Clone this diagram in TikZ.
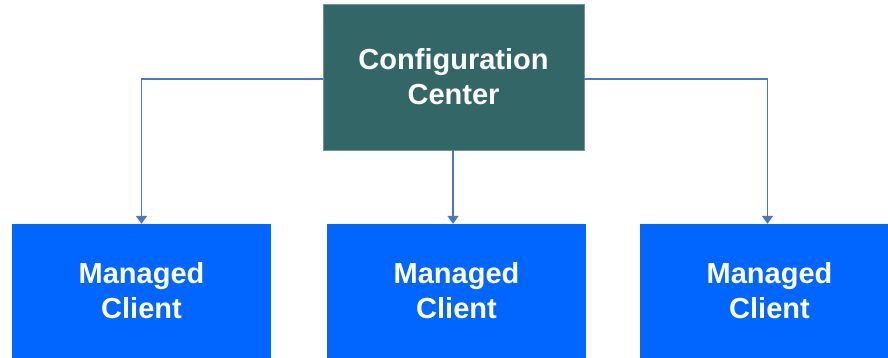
\documentclass[tikz,border=0pt]{standalone}
\usepackage{fontspec}
\setmainfont{Liberation Sans}
\usetikzlibrary{arrows.meta}
\definecolor{centerteal}{HTML}{336666}
\definecolor{clientblue}{HTML}{0066FF}
\definecolor{linkblue}{HTML}{4A76C6}
\tikzset{
  box/.style={rectangle, text=white, align=center, inner sep=0pt,
    font=\fontsize{29}{35}\selectfont\bfseries},
  centerbox/.style={box, fill=centerteal, draw=centerteal!70!white, line width=0.6pt,
    minimum width=261pt, minimum height=146pt},
  clientbox/.style={box, fill=clientblue, minimum width=259pt, minimum height=134pt},
  link/.style={draw=linkblue, line width=1.7pt, -{Triangle[width=11pt,length=8pt]}}
}
\begin{document}
\begin{tikzpicture}[x=1pt, y=-1pt]
  \useasboundingbox (0,0) rectangle (888,358);
  \clip (0,0) rectangle (888,358);
  \node[centerbox] (center) at (453.5,77) {Configuration\\Center};
  \node[clientbox] (clientA) at (141.5,291) {Managed\\Client};
  \node[clientbox] (clientB) at (456.5,291) {Managed\\Client};
  \node[clientbox] (clientC) at (769.5,291) {Managed\\Client};
  \draw[link] ([yshift=-2pt]center.west) -| (clientA.north);
  \draw[link] (center.south -| 453,0) -- (clientB.north -| 453,0);
  \draw[link] ([yshift=-2pt]center.east) -| ([xshift=-2pt]clientC.north);
\end{tikzpicture}
\end{document}
